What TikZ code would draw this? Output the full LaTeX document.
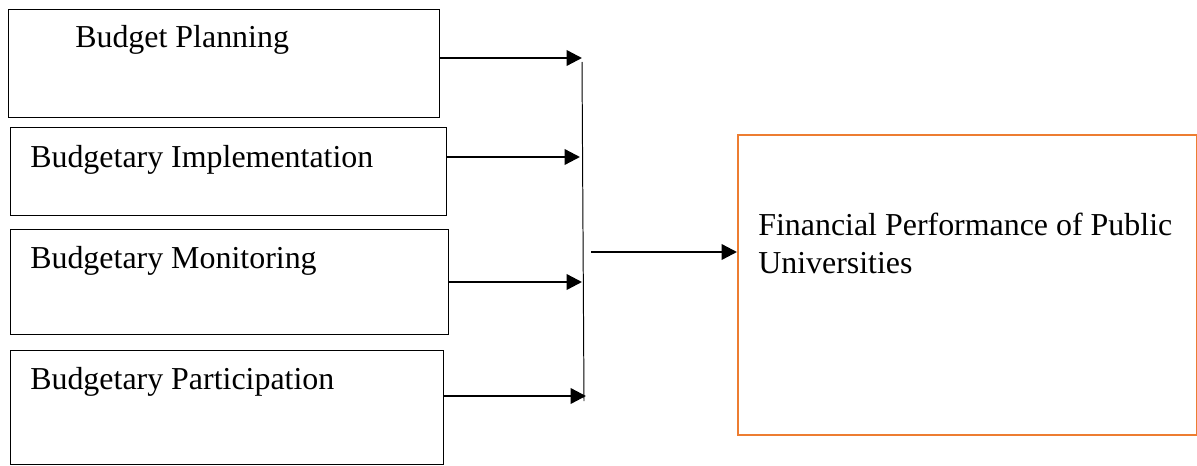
\documentclass[tikz,border=0pt]{standalone}
\usepackage{fontspec}
\setmainfont{Liberation Serif}
\usetikzlibrary{arrows.meta}
\definecolor{boxorange}{RGB}{237,125,49}

\begin{document}
\begin{tikzpicture}[x=0.025cm,y=-0.025cm,
    box/.style={draw,line width=0.9pt,minimum width=#1,anchor=north west,inner sep=0pt},
    lbl/.style={anchor=west,inner sep=0pt,font=\fontsize{22.7}{26.5}\selectfont},
    arr/.style={-{Triangle[length=11pt,width=11pt]},line width=1.7pt}]
  \useasboundingbox (0,0) rectangle (1197,466);
  \node[box=10.775cm,minimum height=2.7cm] (n00) at (8,9) {};
  \node[box=10.9cm,minimum height=2.2cm] (n01) at (10,127) {};
  \node[box=10.95cm,minimum height=2.625cm] (n02) at (10,229) {};
  \node[box=10.825cm,minimum height=2.85cm] (n03) at (10,350) {};
  \node[lbl] (t00) at (75,40) {Budget Planning};
  \node[lbl] (t01) at (30,160) {Budgetary Implementation};
  \node[lbl] (t02) at (30,261) {Budgetary Monitoring};
  \node[lbl] (t03) at (30,382) {Budgetary Participation};
  \node[draw=boxorange,line width=1.2pt,anchor=north west,inner sep=0pt,
        minimum width=11.475cm,minimum height=7.5cm] (n10) at (737,134) {};
  \node[lbl,anchor=north west,align=left] (t10) at (758,213)
    {Financial Performance of Public\\Universities};
  \coordinate (b0) at (582,58);
  \coordinate (b1) at (580,157);
  \coordinate (b2) at (582,282);
  \coordinate (b3) at (586,396);
  \coordinate (bt) at (582,62);
  \coordinate (bb) at (584,401);
  \coordinate (m0) at (591,252);
  \draw[line width=0.7pt] (bt) -- (bb);
  \draw[arr] (n00.east |- b0) -- (b0);
  \draw[arr] (n01.east |- b1) -- (b1);
  \draw[arr] (n02.east |- b2) -- (b2);
  \draw[arr] (n03.east |- b3) -- (b3);
  \draw[arr] (m0) -- (n10.west |- m0);
\end{tikzpicture}
\end{document}
